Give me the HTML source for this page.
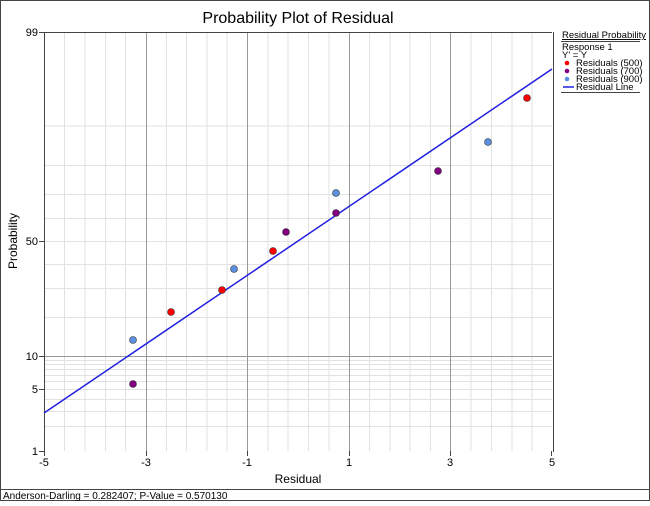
<!DOCTYPE html>
<html><head><style>
body{margin:0;background:#fff;}
svg text{font-family:"Liberation Sans","DejaVu Sans",sans-serif;}
</style></head><body>
<svg width="650" height="501" xmlns="http://www.w3.org/2000/svg">
<rect x="0.5" y="0.5" width="649" height="500" fill="#fff" stroke="#444"/>
<line x1="0" y1="489.5" x2="650" y2="489.5" stroke="#444"/>
<text x="3" y="499" font-size="10">Anderson-Darling = 0.282407; P-Value = 0.570130</text>
<text x="298" y="23" font-size="16" text-anchor="middle">Probability Plot of Residual</text>
<g stroke="#e2e2e2" stroke-width="1">
<line x1="64.5" y1="32" x2="64.5" y2="451"/><line x1="85" y1="32" x2="85" y2="451"/><line x1="105.5" y1="32" x2="105.5" y2="451"/><line x1="125.5" y1="32" x2="125.5" y2="451"/>
<line x1="166.5" y1="32" x2="166.5" y2="451"/><line x1="186.5" y1="32" x2="186.5" y2="451"/><line x1="207" y1="32" x2="207" y2="451"/><line x1="227" y1="32" x2="227" y2="451"/>
<line x1="268" y1="32" x2="268" y2="451"/><line x1="288" y1="32" x2="288" y2="451"/><line x1="308.5" y1="32" x2="308.5" y2="451"/><line x1="329" y1="32" x2="329" y2="451"/>
<line x1="369.5" y1="32" x2="369.5" y2="451"/><line x1="390" y1="32" x2="390" y2="451"/><line x1="410" y1="32" x2="410" y2="451"/><line x1="430.5" y1="32" x2="430.5" y2="451"/>
<line x1="471" y1="32" x2="471" y2="451"/><line x1="491.5" y1="32" x2="491.5" y2="451"/><line x1="512" y1="32" x2="512" y2="451"/><line x1="532" y1="32" x2="532" y2="451"/>
<line x1="44" y1="126" x2="552" y2="126"/><line x1="44" y1="165.5" x2="552" y2="165.5"/><line x1="44" y1="194.5" x2="552" y2="194.5"/><line x1="44" y1="218.5" x2="552" y2="218.5"/><line x1="44" y1="241.5" x2="552" y2="241.5"/>
<line x1="44" y1="264.5" x2="552" y2="264.5"/><line x1="44" y1="288.5" x2="552" y2="288.5"/><line x1="44" y1="317.5" x2="552" y2="317.5"/>
<line x1="44" y1="360.5" x2="552" y2="360.5"/><line x1="44" y1="364.5" x2="552" y2="364.5"/><line x1="44" y1="369.5" x2="552" y2="369.5"/><line x1="44" y1="375.5" x2="552" y2="375.5"/><line x1="44" y1="381.5" x2="552" y2="381.5"/>
<line x1="44" y1="389.5" x2="552" y2="389.5"/><line x1="44" y1="399.5" x2="552" y2="399.5"/><line x1="44" y1="411.5" x2="552" y2="411.5"/><line x1="44" y1="426.5" x2="552" y2="426.5"/>
</g>
<g stroke="#999" stroke-width="1">
<line x1="146.5" y1="32" x2="146.5" y2="451"/><line x1="247.5" y1="32" x2="247.5" y2="451"/><line x1="349.5" y1="32" x2="349.5" y2="451"/><line x1="450.5" y1="32" x2="450.5" y2="451"/>
<line x1="44" y1="356.5" x2="552" y2="356.5"/>
</g>
<line x1="44.5" y1="32" x2="44.5" y2="452" stroke="#444"/>
<line x1="44" y1="32.5" x2="552" y2="32.5" stroke="#444"/>
<g stroke="#444"><line x1="39" y1="32.5" x2="44" y2="32.5"/><line x1="39" y1="241.5" x2="44" y2="241.5"/><line x1="39" y1="356.5" x2="44" y2="356.5"/><line x1="39" y1="389.5" x2="44" y2="389.5"/><line x1="39" y1="451.5" x2="44" y2="451.5"/>
<line x1="44.5" y1="451" x2="44.5" y2="456"/><line x1="146.5" y1="451" x2="146.5" y2="456"/><line x1="247.5" y1="451" x2="247.5" y2="456"/><line x1="349.5" y1="451" x2="349.5" y2="456"/><line x1="450.5" y1="451" x2="450.5" y2="456"/><line x1="551.5" y1="451" x2="551.5" y2="456"/></g>
<g font-size="11" text-anchor="end">
<text x="38" y="36">99</text><text x="38" y="245">50</text><text x="38" y="360">10</text><text x="38" y="393">5</text><text x="38" y="455">1</text></g>
<g font-size="11" text-anchor="middle">
<text x="44" y="466">-5</text><text x="146" y="466">-3</text><text x="247" y="466">-1</text><text x="349" y="466">1</text><text x="450" y="466">3</text><text x="552" y="466">5</text></g>
<text x="298" y="483" font-size="12" text-anchor="middle">Residual</text>
<text x="17" y="241" font-size="12" text-anchor="middle" transform="rotate(-90 17 241)">Probability</text>
<line x1="44" y1="413" x2="552" y2="69" stroke="#1f1fe0" stroke-width="1.5"/>
<g stroke="#333" stroke-width="0.6">
<circle cx="171" cy="312" r="3.5" fill="#f00"/><circle cx="222" cy="290" r="3.5" fill="#f00"/><circle cx="273" cy="251" r="3.5" fill="#f00"/><circle cx="527" cy="98" r="3.5" fill="#f00"/>
<circle cx="133" cy="384" r="3.5" fill="#800080"/><circle cx="286" cy="232" r="3.5" fill="#800080"/><circle cx="336" cy="213" r="3.5" fill="#800080"/><circle cx="438" cy="171" r="3.5" fill="#800080"/>
<circle cx="133" cy="340" r="3.5" fill="#5b8fe0"/><circle cx="234" cy="269" r="3.5" fill="#5b8fe0"/><circle cx="336" cy="193" r="3.5" fill="#5b8fe0"/><circle cx="488" cy="142" r="3.5" fill="#5b8fe0"/>
</g>
<line x1="553.5" y1="32" x2="553.5" y2="452" stroke="#444"/>
<g font-size="9.5">
<text x="562" y="38" text-decoration="underline">Residual Probability</text>
<line x1="561" y1="41.5" x2="640" y2="41.5" stroke="#444"/>
<text x="562" y="50">Response 1</text>
<text x="562" y="58">Y' = Y</text>
<circle cx="567" cy="63" r="2.3" fill="#f00"/><text x="576" y="66">Residuals (500)</text>
<circle cx="567" cy="71" r="2.3" fill="#800080"/><text x="576" y="74">Residuals (700)</text>
<circle cx="567" cy="79" r="2.3" fill="#5b8fe0"/><text x="576" y="82">Residuals (900)</text>
<line x1="563" y1="87" x2="574" y2="87" stroke="#1f1fe0" stroke-width="1.5"/><text x="576" y="90">Residual Line</text>
<line x1="561" y1="92.5" x2="640" y2="92.5" stroke="#444"/>
</g>
</svg>
</body></html>
